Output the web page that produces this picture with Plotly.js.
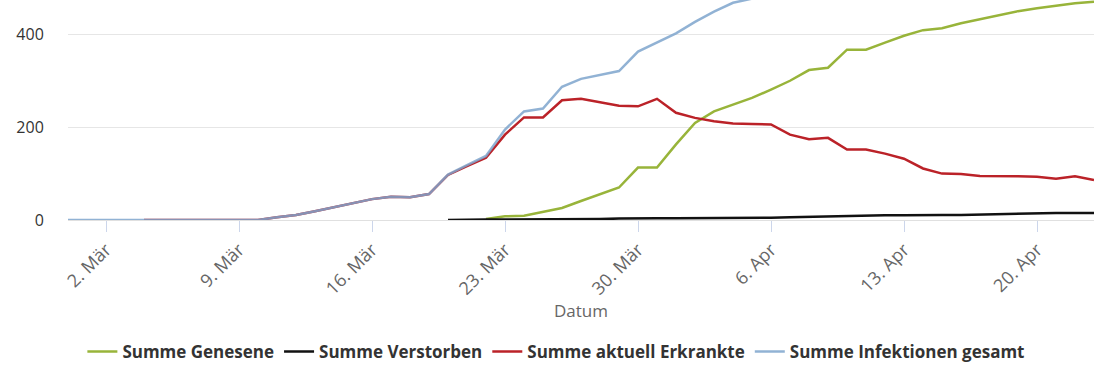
<!DOCTYPE html>
<html>
<head>
<meta charset="utf-8">
<script src="https://cdn.plot.ly/plotly-3.0.1.min.js"></script>
<style>html,body{margin:0;padding:0;background:#fff;}#chart{width:1110px;height:370px;}</style>
</head>
<body>
<div id="chart"></div>
<script>
// Dates (one per day)
const datesInfektionen = ["2020-02-29","2020-03-01","2020-03-02","2020-03-03","2020-03-04","2020-03-05","2020-03-06","2020-03-07","2020-03-08","2020-03-09","2020-03-10","2020-03-11","2020-03-12","2020-03-13","2020-03-14","2020-03-15","2020-03-16","2020-03-17","2020-03-18","2020-03-19","2020-03-20","2020-03-21","2020-03-22","2020-03-23","2020-03-24","2020-03-25","2020-03-26","2020-03-27","2020-03-28","2020-03-29","2020-03-30","2020-03-31","2020-04-01","2020-04-02","2020-04-03","2020-04-04","2020-04-05","2020-04-06"];
const infektionenGesamt = [0,0,0,0,0,0,0,0,0,0,0,6,11,19,28,37,45,50,49,56,98,118,138,195,234,240,287,304,313,321,363,382,402,427,449,468,477,491];

const datesErkrankte = ["2020-03-04","2020-03-05","2020-03-06","2020-03-07","2020-03-08","2020-03-09","2020-03-10","2020-03-11","2020-03-12","2020-03-13","2020-03-14","2020-03-15","2020-03-16","2020-03-17","2020-03-18","2020-03-19","2020-03-20","2020-03-21","2020-03-22","2020-03-23","2020-03-24","2020-03-25","2020-03-26","2020-03-27","2020-03-28","2020-03-29","2020-03-30","2020-03-31","2020-04-01","2020-04-02","2020-04-03","2020-04-04","2020-04-05","2020-04-06","2020-04-07","2020-04-08","2020-04-09","2020-04-10","2020-04-11","2020-04-12","2020-04-13","2020-04-14","2020-04-15","2020-04-16","2020-04-17","2020-04-18","2020-04-19","2020-04-20","2020-04-21","2020-04-22","2020-04-23"];
const aktuellErkrankte = [0,0,0,0,0,0,0,6,11,19,28,37,45,50,49,56,97,116,134,184,221,221,258,261,253,246,245,261,231,220,213,208,207,206,184,174,177,152,152,143,132,111,100,99,95,95,94,93,89,94,86];

const datesVerstorben = ["2020-03-20","2020-03-21","2020-03-22","2020-03-23","2020-03-24","2020-03-25","2020-03-26","2020-03-27","2020-03-28","2020-03-29","2020-03-30","2020-03-31","2020-04-01","2020-04-02","2020-04-03","2020-04-04","2020-04-05","2020-04-06","2020-04-07","2020-04-08","2020-04-09","2020-04-10","2020-04-11","2020-04-12","2020-04-13","2020-04-14","2020-04-15","2020-04-16","2020-04-17","2020-04-18","2020-04-19","2020-04-20","2020-04-21","2020-04-22","2020-04-23"];
const verstorben = [0,1,1,1,1,2,2,2,2,3,4,4,4,4,4,4,4,5,6,7,8,9,9,10,10,11,11,11,12,13,14,15,15,15,15];

const datesGenesene = ["2020-03-22","2020-03-23","2020-03-24","2020-03-25","2020-03-26","2020-03-27","2020-03-28","2020-03-29","2020-03-30","2020-03-31","2020-04-01","2020-04-02","2020-04-03","2020-04-04","2020-04-05","2020-04-06","2020-04-07","2020-04-08","2020-04-09","2020-04-10","2020-04-11","2020-04-12","2020-04-13","2020-04-14","2020-04-15","2020-04-16","2020-04-17","2020-04-18","2020-04-19","2020-04-20","2020-04-21","2020-04-22","2020-04-23"];
const genesene = [2,8,9,17,26,41,56,70,113,113,163,209,234,249,263,281,300,323,328,367,367,382,397,409,413,424,433,442,450,456,461,467,470];

const tickDates = ["2020-03-02","2020-03-09","2020-03-16","2020-03-23","2020-03-30","2020-04-06","2020-04-13","2020-04-20"];
const tickLabels = ["2. Mär","9. Mär","16. Mär","23. Mär","30. Mär","6. Apr","13. Apr","20. Apr"];
const yTicks = [0,200,400];

const lw = 2.5;
const traces = [
  {x: datesGenesene, y: genesene, name: "Summe Genesene", type: "scatter", mode: "lines", line: {color: "#98b43a", width: lw}},
  {x: datesVerstorben, y: verstorben, name: "Summe Verstorben", type: "scatter", mode: "lines", line: {color: "#111111", width: lw}},
  {x: datesErkrankte, y: aktuellErkrankte, name: "Summe aktuell Erkrankte", type: "scatter", mode: "lines", line: {color: "#bb2228", width: lw}},
  {x: datesInfektionen, y: infektionenGesamt, name: "Summe Infektionen gesamt", type: "scatter", mode: "lines", line: {color: "#7ea4cc", width: lw}, opacity: 0.85}
];

const layout = {
  width: 1110, height: 370,
  margin: {l: 68, r: 16, t: 0, b: 149},
  paper_bgcolor: "#ffffff", plot_bgcolor: "#ffffff",
  font: {family: "Open Sans, sans-serif", color: "#333"},
  showlegend: true,
  hovermode: false,
  xaxis: {
    type: "date",
    range: ["2020-02-29", "2020-04-23"],
    tickvals: tickDates, ticktext: tickLabels,
    tickangle: -45,
    tickfont: {size: 18, color: "#666"},
    ticks: "outside", ticklen: 11, tickcolor: "#ccd6eb", tickwidth: 1,
    showgrid: false, zeroline: false, showline: false,
    title: {text: "Datum", font: {size: 17, color: "#666"}, standoff: 1},
    fixedrange: true
  },
  yaxis: {
    range: [0, 474],
    tickvals: yTicks,
    tickfont: {size: 16, color: "#333"},
    showgrid: true, gridcolor: "#e6e6e6", gridwidth: 1,
    zeroline: true, zerolinecolor: "#e0e0e0", zerolinewidth: 1,
    ticks: "outside", ticklen: 20, tickcolor: "rgba(0,0,0,0)",
    showline: false, fixedrange: true
  },
  legend: {
    orientation: "h",
    x: 0.476, xanchor: "center",
    y: -0.6, yanchor: "middle",
    font: {size: 17, color: "#333", weight: "bold"},
    itemwidth: 30
  }
};

Plotly.newPlot("chart", traces, layout, {displayModeBar: false, staticPlot: true});
</script>
</body>
</html>
